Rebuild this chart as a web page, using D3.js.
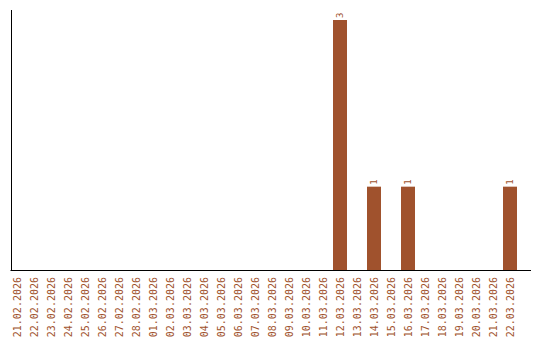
<!DOCTYPE html>
<html><head><meta charset="utf-8">
<script src="https://cdn.jsdelivr.net/npm/d3@7"></script>
<style>body{margin:0;background:#fff}svg{display:block}</style>
</head><body><svg id="c" width="540" height="340"></svg>
<script>
const categories = ["21.02.2026","22.02.2026","23.02.2026","24.02.2026","25.02.2026","26.02.2026","27.02.2026","28.02.2026","01.03.2026","02.03.2026","03.03.2026","04.03.2026","05.03.2026","06.03.2026","07.03.2026","08.03.2026","09.03.2026","10.03.2026","11.03.2026","12.03.2026","13.03.2026","14.03.2026","15.03.2026","16.03.2026","17.03.2026","18.03.2026","19.03.2026","20.03.2026","21.03.2026","22.03.2026"];
const values = [0,0,0,0,0,0,0,0,0,0,0,0,0,0,0,0,0,0,0,3,0,1,0,1,0,0,0,0,0,1];
const yTicks = [0,1,2,3];

const svg = d3.select("#c");
const color = "#a0522d";
const x = d3.scaleBand().domain(categories).range([8.5, 518.5]).paddingInner(3/17).paddingOuter(1.5/17);
const y = d3.scaleLinear().domain([0, 3]).range([270, 20]);

const data = categories.map((c,i)=>({c, v: values[i]}));

svg.selectAll("rect.bar").data(data.filter(d=>d.v>0)).join("rect")
  .attr("class","bar")
  .attr("x", d=>x(d.c)).attr("width", x.bandwidth())
  .attr("y", d=>y(d.v)).attr("height", d=>y(0)-y(d.v))
  .attr("fill", color);

svg.selectAll("text.val").data(data.filter(d=>d.v>0)).join("text")
  .attr("class","val")
  .attr("transform", d=>`translate(${x(d.c)+x.bandwidth()/2},${y(d.v)-2}) rotate(-90)`)
  .attr("dy","0.35em")
  .attr("text-anchor","start")
  .attr("font-family","DejaVu Sans Mono, monospace")
  .attr("font-size","9px")
  .attr("fill", color)
  .text(d=>d.v);

// x axis
const xAxis = d3.axisBottom(x).tickSize(0).tickPadding(0);
const gx = svg.append("g").attr("transform","translate(0,270)").call(xAxis);
gx.select(".domain").remove();
gx.selectAll("text")
  .attr("font-family","DejaVu Sans Mono, monospace")
  .attr("font-size","10px")
  .attr("fill", color)
  .attr("text-anchor","end")
  .attr("transform","translate(0,7) rotate(-90)")
  .attr("x",0).attr("y",0).attr("dy","0.35em");

svg.append("line").attr("x1",10.5).attr("x2",531).attr("y1",270.5).attr("y2",270.5)
  .attr("stroke","#000").attr("stroke-width",1);
// y axis (no tick labels)
const yAxis = d3.axisLeft(y).tickValues(yTicks).tickSize(0).tickFormat("");
const gy = svg.append("g").attr("transform","translate(11,0)").call(yAxis);
gy.select(".domain").attr("d","M0.5,10V270.5").attr("stroke","#000");
</script></body></html>
